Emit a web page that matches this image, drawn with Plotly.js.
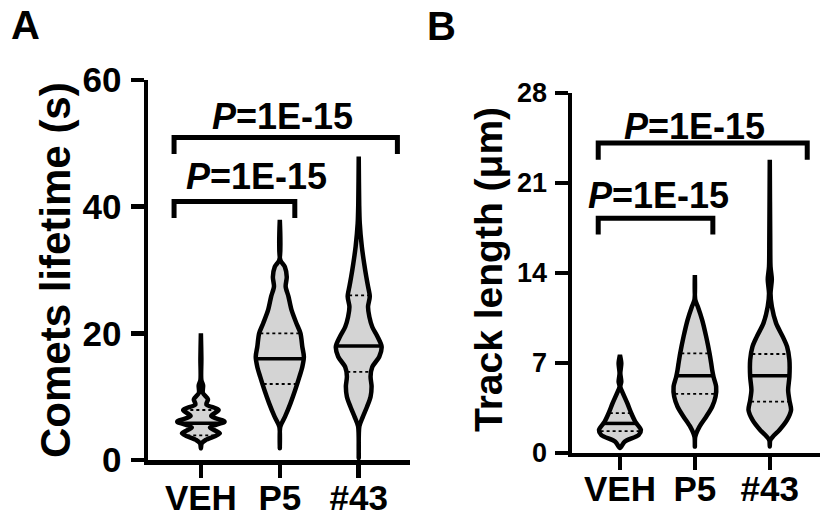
<!DOCTYPE html>
<html>
<head>
<meta charset="utf-8">
<script src="https://cdn.plot.ly/plotly-3.0.1.min.js"></script>
<style>
  html, body { margin: 0; padding: 0; background: #fff; }
  #chart { width: 826px; height: 516px; }
</style>
</head>
<body>
<div id="chart"></div>
<script>
const categories = ['VEH', 'P5', '#43'];

// panel A: comets lifetime (s), violin outlines
// y = level, w = half width (in category units)
const lifeVehY = [1.84, 2.63, 3.16, 4.2, 5.15, 6.05, 6.95, 7.9, 8.79, 9.58, 10.6, 11.8, 12.6, 16, 20.0];
const lifeVehW = [0, 0.01, 0.06, 0.24, 0.115, 0.3, 0.13, 0.225, 0.068, 0.09, 0.025, 0.028, 0.006, 0.006, 0];
const lifeP5Y = [1.84, 5.26, 6.84, 8.95, 11.05, 13.2, 14.7, 16.3, 17.9, 20.0, 21.6, 23.7, 25.8, 27.4, 28.9, 30.5, 31.6, 37.9];
const lifeP5W = [0, 0.006, 0.066, 0.135, 0.195, 0.25, 0.285, 0.305, 0.285, 0.262, 0.21, 0.148, 0.11, 0.074, 0.088, 0.064, 0.006, 0];
const life43Y = [0.3, 5.3, 6.8, 8.4, 10.0, 11.6, 13.2, 14.7, 16.3, 17.9, 19.5, 21.0, 22.6, 24.2, 25.8, 27.4, 28.9, 31.0, 33.7, 37.4, 40.3, 47.9];
const life43W = [0, 0.008, 0.052, 0.105, 0.15, 0.163, 0.15, 0.172, 0.26, 0.29, 0.237, 0.172, 0.135, 0.118, 0.14, 0.118, 0.096, 0.069, 0.039, 0.013, 0.006, 0];
// [q1, median, q3]
const lifeQuart = [[3.9, 5.8, 7.9], [12, 16, 20], [13.9, 18, 26]];
const lifeTicks = [0, 20, 40, 60];

// panel B: track length (um)
const lenVehY = [0.39, 0.88, 1.4, 1.79, 2.44, 3.09, 3.87, 4.64, 5.16, 5.55, 6.2, 6.97, 7.62];
const lenVehW = [0, 0.062, 0.25, 0.28, 0.204, 0.151, 0.098, 0.04, 0.005, 0.018, 0.005, 0.018, 0];
const lenP5Y = [0.5, 1.27, 2.05, 2.82, 3.6, 4.38, 5.16, 5.93, 6.46, 6.97, 7.75, 9.05, 10.34, 11.38, 11.9, 13.84];
const lenP5W = [0, 0.005, 0.062, 0.151, 0.231, 0.276, 0.284, 0.249, 0.231, 0.218, 0.196, 0.151, 0.098, 0.04, 0.006, 0];
const len43Y = [0.5, 1.0, 1.27, 1.79, 2.57, 3.34, 4.1, 4.9, 5.93, 7.23, 8.27, 9.05, 10.1, 11.4, 12.4, 13.5, 14.5, 16.6, 22.8];
const len43W = [0, 0.006, 0.04, 0.129, 0.231, 0.284, 0.262, 0.245, 0.262, 0.262, 0.231, 0.173, 0.084, 0.027, 0.01, 0.027, 0.01, 0.006, 0];
const lenQuart = [[1.7, 2.3, 3.1], [4.6, 6.0, 7.75], [4.0, 6.0, 7.7]];
const lenTicks = [0, 7, 14, 21, 28];

const pLabel = '<b><i>P</i>=1E-15</b>';
const fontFam = 'Liberation Sans, Arial, sans-serif';
const bold = s => `<b>${s}</b>`;

// half width of a violin at level v
function widthAt(ys, ws, v) {
  for (let i = 1; i < ys.length; i++) {
    if (v <= ys[i]) {
      const t = (v - ys[i - 1]) / (ys[i] - ys[i - 1]);
      return ws[i - 1] + t * (ws[i] - ws[i - 1]);
    }
  }
  return 0;
}

// closed outline + median and quartile lines
function violin(cx, ys, ws, quart, xa, ya) {
  const x = ys.map((y, i) => cx + ws[i]).concat(ys.map((y, i) => cx - ws[i]).reverse());
  const y = ys.concat(ys.slice().reverse());
  const out = [{
    type: 'scatter', mode: 'lines', x: x, y: y, xaxis: xa, yaxis: ya,
    fill: 'toself', fillcolor: '#d4d4d4',
    line: {color: '#000', width: 4.5, shape: 'spline', smoothing: 0.8},
    hoverinfo: 'skip', showlegend: false
  }];
  quart.forEach((q, k) => {
    const w = widthAt(ys, ws, q) - 0.015;
    out.push({
      type: 'scatter', mode: 'lines', x: [cx - w, cx + w], y: [q, q], xaxis: xa, yaxis: ya,
      line: {color: '#000', width: k == 1 ? 3.5 : 1.8, dash: k == 1 ? 'solid' : 'dot'},
      hoverinfo: 'skip', showlegend: false
    });
  });
  return out;
}

let traces = [];
traces = traces.concat(violin(0, lifeVehY, lifeVehW, lifeQuart[0], 'x', 'y'));
traces = traces.concat(violin(1, lifeP5Y, lifeP5W, lifeQuart[1], 'x', 'y'));
traces = traces.concat(violin(2, life43Y, life43W, lifeQuart[2], 'x', 'y'));
traces = traces.concat(violin(0, lenVehY, lenVehW, lenQuart[0], 'x2', 'y2'));
traces = traces.concat(violin(1, lenP5Y, lenP5W, lenQuart[1], 'x2', 'y2'));
traces = traces.concat(violin(2, len43Y, len43W, lenQuart[2], 'x2', 'y2'));

function axisStyle(extra) {
  return Object.assign({
    showline: true, linewidth: 4.5, linecolor: '#000',
    ticks: 'outside', ticklen: 13, tickwidth: 4.5, tickcolor: '#000',
    showgrid: false, zeroline: false, fixedrange: true
  }, extra);
}

function bracket(xr, yr, x0, x1, yTop, yEnd) {
  return {
    type: 'path', xref: xr, yref: yr,
    path: `M ${x0},${yEnd} L ${x0},${yTop} L ${x1},${yTop} L ${x1},${yEnd}`,
    line: {color: '#000', width: 5}
  };
}

function note(text, x, y, xr, yr, size, angle) {
  return {
    text: text, x: x, y: y, xref: xr, yref: yr, showarrow: false,
    textangle: angle || 0, xanchor: 'center', yanchor: 'middle',
    font: {family: fontFam, size: size, color: '#000'}
  };
}

const layout = {
  width: 826, height: 516,
  margin: {l: 0, r: 0, t: 0, b: 0},
  paper_bgcolor: '#fff', plot_bgcolor: '#fff',
  showlegend: false,
  xaxis: axisStyle({
    domain: [0.1792, 0.4964], range: [-0.67, 2.65], anchor: 'y',
    tickvals: [0, 1, 2], ticktext: categories.map(bold), ticklabelstandoff: -10,
    tickfont: {family: fontFam, size: 35, color: '#000'}
  }),
  yaxis: axisStyle({
    domain: [0.1085, 0.845], range: [0, 60], anchor: 'x',
    tickvals: lifeTicks, ticktext: lifeTicks.map(bold), ticklabelstandoff: 2,
    tickfont: {family: fontFam, size: 35, color: '#000'}
  }),
  xaxis2: axisStyle({
    domain: [0.6925, 0.9927], range: [-0.64, 2.67], anchor: 'y2',
    tickvals: [0, 1, 2], ticktext: categories.map(bold), ticklabelstandoff: -11,
    tickfont: {family: fontFam, size: 35, color: '#000'}
  }),
  yaxis2: axisStyle({
    domain: [0.1221, 0.8198], range: [0, 28], anchor: 'x2',
    tickvals: lenTicks, ticktext: lenTicks.map(bold), ticklabelstandoff: 2,
    tickfont: {family: fontFam, size: 27, color: '#000'}
  }),
  shapes: [
    bracket('x', 'y', -0.34, 2.49, 50.9, 48.3),
    bracket('x', 'y', -0.34, 1.19, 40.8, 38.2),
    bracket('x2', 'y2', -0.29, 2.50, 24.1, 22.8),
    bracket('x2', 'y2', -0.29, 1.24, 18.25, 17.0)
  ],
  annotations: [
    note(bold('A'), 0.031, 0.952, 'paper', 'paper', 40),
    note(bold('B'), 0.534, 0.950, 'paper', 'paper', 40),
    note(bold('Comets lifetime (s)'), 0.0666, 0.4767, 'paper', 'paper', 42, -90),
    note(bold('Track length (μm)'), 0.5908, 0.4767, 'paper', 'paper', 39, -90),
    note(pLabel, 1.03, 54.2, 'x', 'y', 36),
    note(pLabel, 0.71, 44.7, 'x', 'y', 36),
    note(pLabel, 1.0, 25.4, 'x2', 'y2', 36),
    note(pLabel, 0.51, 20.0, 'x2', 'y2', 36)
  ]
};

Plotly.newPlot('chart', traces, layout, {staticPlot: true, displayModeBar: false});
</script>
</body>
</html>
